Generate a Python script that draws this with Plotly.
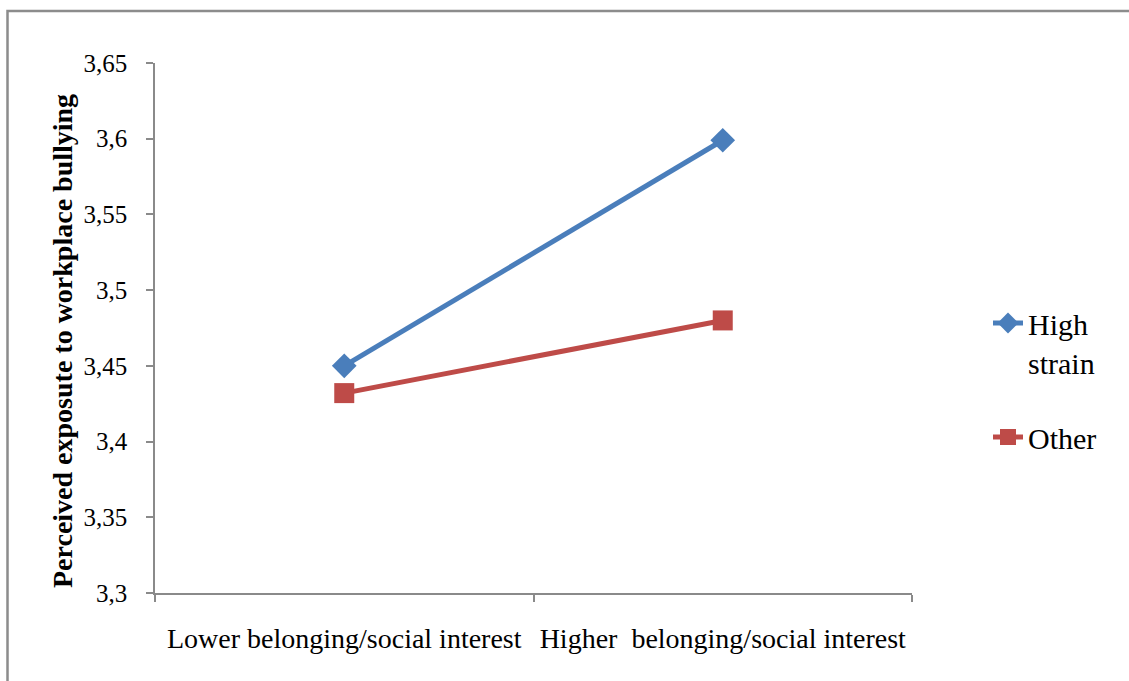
import plotly.graph_objects as go

# Interaction plot: perceived exposure to workplace bullying
categories = ["Lower belonging/social interest", "Higher\u00a0 belonging/social interest"]
high_strain = [3.45, 3.599]
other = [3.432, 3.48]
series_names = ["High<br>strain", "Other"]

y_ticks = [3.3, 3.35, 3.4, 3.45, 3.5, 3.55, 3.6, 3.65]
y_tick_text = ["3,3", "3,35", "3,4", "3,45", "3,5", "3,55", "3,6", "3,65"]

W, H = 1129, 681
ML, MR, MT, MB = 155, 217, 63, 88
PW, PH = W - ML - MR, H - MT - MB

FONT = "Liberation Serif, Times New Roman, serif"
AXIS_GREY = "#8a8a8a"

fig = go.Figure()
fig.add_trace(go.Scatter(
    x=categories, y=high_strain, name=series_names[0], mode="lines+markers",
    legendgroup="g1",
    line=dict(color="#4A7EBB", width=5),
    marker=dict(symbol="diamond", size=19, color="#4A7EBB"),
))
fig.add_trace(go.Scatter(
    x=categories, y=other, name=series_names[1], mode="lines+markers",
    legendgroup="g2",
    line=dict(color="#BE4B48", width=5),
    marker=dict(symbol="square", size=20, color="#BE4B48"),
))

# outer chart frame (only left and top edges fall inside the page)
def px_x(v):
    return (v - ML) / PW

def px_y(v):
    return 1 - (v - MT) / PH

fig.add_shape(type="rect", xref="paper", yref="paper",
              x0=px_x(7.5), x1=px_x(1140), y0=px_y(11), y1=px_y(700),
              line=dict(color="#8c8c8c", width=2.5), fillcolor="rgba(0,0,0,0)",
              layer="below")

fig.add_annotation(
    text="<b>Perceived exposute to workplace bullying</b>",
    xref="paper", yref="paper", x=px_x(62), y=px_y(341),
    textangle=-90, showarrow=False, xanchor="center", yanchor="middle",
    font=dict(family=FONT, size=28, color="black"),
)

fig.update_layout(
    width=W, height=H,
    margin=dict(l=ML, r=MR, t=MT, b=MB, pad=0),
    paper_bgcolor="white", plot_bgcolor="white",
    font=dict(family=FONT, size=25, color="black"),
    showlegend=True,
    legend=dict(
        x=px_x(988), y=px_y(297), xanchor="left", yanchor="top",
        font=dict(family=FONT, size=30, color="black"),
        tracegroupgap=33, valign="top",
        bgcolor="rgba(0,0,0,0)",
    ),
    xaxis=dict(
        type="category", range=[-0.5, 1.5],
        showline=True, linecolor=AXIS_GREY, linewidth=1.5,
        showgrid=False, zeroline=False,
        ticks="outside", tickson="boundaries", ticklen=7, tickcolor=AXIS_GREY,
        tickwidth=1.5, ticklabelstandoff=20,
        tickfont=dict(family=FONT, size=28, color="black"),
    ),
    yaxis=dict(
        range=[3.3, 3.65], tickvals=y_ticks, ticktext=y_tick_text,
        showline=True, linecolor=AXIS_GREY, linewidth=1.5,
        showgrid=False, zeroline=False,
        ticks="outside", ticklen=7, tickcolor=AXIS_GREY, tickwidth=1.5,
        ticklabelstandoff=14,
        tickfont=dict(family=FONT, size=25, color="black"),
    ),
)

fig.write_html("out.html")
